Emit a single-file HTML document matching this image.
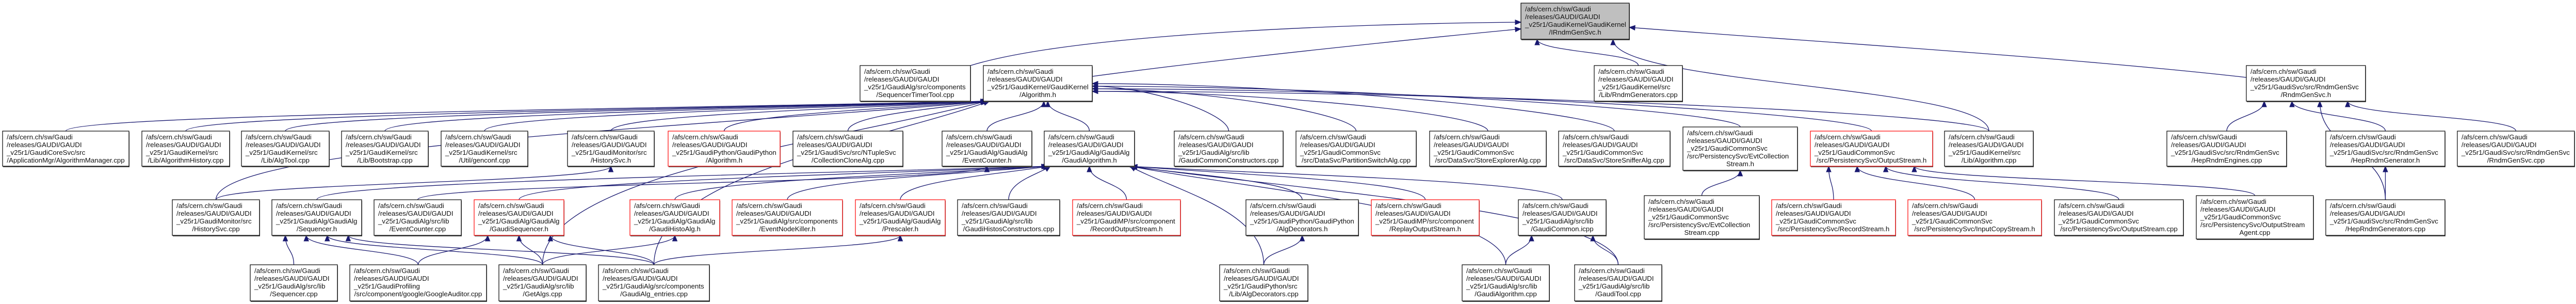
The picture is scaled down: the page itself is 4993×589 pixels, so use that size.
<!DOCTYPE html>
<html><head><meta charset="utf-8">
<style>
html,body{margin:0;padding:0;background:#fff;}
svg{display:block;}
text{font-family:"Liberation Sans",Arial,sans-serif;font-size:13.3px;fill:#111;}
</style></head>
<body>
<svg id="g" width="4993" height="589" viewBox="0 0 4993 589" xmlns="http://www.w3.org/2000/svg">
<g id="edges" fill="none" stroke="#191970" stroke-width="1.3"></g>
<g id="heads" fill="#191970" stroke="#191970" stroke-width="1"></g>
<g id="nodes"></g>
</svg>
<script>
var N={
T:[2948,3158,6,70,'g',['/afs/cern.ch/sw/Gaudi','/releases/GAUDI/GAUDI','_v25r1/GaudiKernel/GaudiKernel','/IRndmGenSvc.h']],
B1:[1667,1881,127,69,'k',['/afs/cern.ch/sw/Gaudi','/releases/GAUDI/GAUDI','_v25r1/GaudiAlg/src/components','/SequencerTimerTool.cpp']],
B2:[1906,2117,127,69,'k',['/afs/cern.ch/sw/Gaudi','/releases/GAUDI/GAUDI','_v25r1/GaudiKernel/GaudiKernel','/Algorithm.h']],
B3:[3090,3261,127,69,'k',['/afs/cern.ch/sw/Gaudi','/releases/GAUDI/GAUDI','_v25r1/GaudiKernel/src','/Lib/RndmGenerators.cpp']],
B4:[4354,4585,127,69,'k',['/afs/cern.ch/sw/Gaudi','/releases/GAUDI/GAUDI','_v25r1/GaudiSvc/src/RndmGenSvc','/RndmGenSvc.h']],
A1:[5,250,254,68,'k',['/afs/cern.ch/sw/Gaudi','/releases/GAUDI/GAUDI','_v25r1/GaudiCoreSvc/src','/ApplicationMgr/AlgorithmManager.cpp']],
A2:[275,445,254,68,'k',['/afs/cern.ch/sw/Gaudi','/releases/GAUDI/GAUDI','_v25r1/GaudiKernel/src','/Lib/AlgorithmHistory.cpp']],
A3:[468,638,254,68,'k',['/afs/cern.ch/sw/Gaudi','/releases/GAUDI/GAUDI','_v25r1/GaudiKernel/src','/Lib/AlgTool.cpp']],
A4:[662,830,254,68,'k',['/afs/cern.ch/sw/Gaudi','/releases/GAUDI/GAUDI','_v25r1/GaudiKernel/src','/Lib/Bootstrap.cpp']],
A5:[855,1023,254,68,'k',['/afs/cern.ch/sw/Gaudi','/releases/GAUDI/GAUDI','_v25r1/GaudiKernel/src','/Util/genconf.cpp']],
A6:[1100,1268,254,68,'k',['/afs/cern.ch/sw/Gaudi','/releases/GAUDI/GAUDI','_v25r1/GaudiMonitor/src','/HistorySvc.h']],
A7:[1295,1512,254,68,'r',['/afs/cern.ch/sw/Gaudi','/releases/GAUDI/GAUDI','_v25r1/GaudiPython/GaudiPython','/Algorithm.h']],
A8:[1537,1750,254,68,'k',['/afs/cern.ch/sw/Gaudi','/releases/GAUDI/GAUDI','_v25r1/GaudiSvc/src/NTupleSvc','/CollectionCloneAlg.cpp']],
A9:[1826,2000,254,68,'k',['/afs/cern.ch/sw/Gaudi','/releases/GAUDI/GAUDI','_v25r1/GaudiAlg/GaudiAlg','/EventCounter.h']],
A10:[2024,2199,254,68,'k',['/afs/cern.ch/sw/Gaudi','/releases/GAUDI/GAUDI','_v25r1/GaudiAlg/GaudiAlg','/GaudiAlgorithm.h']],
A11:[2276,2487,254,68,'k',['/afs/cern.ch/sw/Gaudi','/releases/GAUDI/GAUDI','_v25r1/GaudiAlg/src/lib','/GaudiCommonConstructors.cpp']],
A12:[2512,2745,254,68,'k',['/afs/cern.ch/sw/Gaudi','/releases/GAUDI/GAUDI','_v25r1/GaudiCommonSvc','/src/DataSvc/PartitionSwitchAlg.cpp']],
A13:[2771,2997,254,68,'k',['/afs/cern.ch/sw/Gaudi','/releases/GAUDI/GAUDI','_v25r1/GaudiCommonSvc','/src/DataSvc/StoreExplorerAlg.cpp']],
A14:[3021,3237,254,68,'k',['/afs/cern.ch/sw/Gaudi','/releases/GAUDI/GAUDI','_v25r1/GaudiCommonSvc','/src/DataSvc/StoreSnifferAlg.cpp']],
A15:[3262,3484,246,84,'k',['/afs/cern.ch/sw/Gaudi','/releases/GAUDI/GAUDI','_v25r1/GaudiCommonSvc','/src/PersistencySvc/EvtCollection','Stream.h']],
A16:[3509,3746,254,68,'r',['/afs/cern.ch/sw/Gaudi','/releases/GAUDI/GAUDI','_v25r1/GaudiCommonSvc','/src/PersistencySvc/OutputStream.h']],
A17:[3769,3941,254,68,'k',['/afs/cern.ch/sw/Gaudi','/releases/GAUDI/GAUDI','_v25r1/GaudiKernel/src','/Lib/Algorithm.cpp']],
A18:[4200,4432,254,68,'k',['/afs/cern.ch/sw/Gaudi','/releases/GAUDI/GAUDI','_v25r1/GaudiSvc/src/RndmGenSvc','/HepRndmEngines.cpp']],
A19:[4508,4739,254,68,'k',['/afs/cern.ch/sw/Gaudi','/releases/GAUDI/GAUDI','_v25r1/GaudiSvc/src/RndmGenSvc','/HepRndmGenerator.h']],
A20:[4763,4990,254,68,'k',['/afs/cern.ch/sw/Gaudi','/releases/GAUDI/GAUDI','_v25r1/GaudiSvc/src/RndmGenSvc','/RndmGenSvc.cpp']],
C1:[334,503,387,69,'k',['/afs/cern.ch/sw/Gaudi','/releases/GAUDI/GAUDI','_v25r1/GaudiMonitor/src','/HistorySvc.cpp']],
C2:[527,701,387,69,'k',['/afs/cern.ch/sw/Gaudi','/releases/GAUDI/GAUDI','_v25r1/GaudiAlg/GaudiAlg','/Sequencer.h']],
C3:[725,894,387,69,'k',['/afs/cern.ch/sw/Gaudi','/releases/GAUDI/GAUDI','_v25r1/GaudiAlg/src/lib','/EventCounter.cpp']],
C4:[919,1093,387,69,'r',['/afs/cern.ch/sw/Gaudi','/releases/GAUDI/GAUDI','_v25r1/GaudiAlg/GaudiAlg','/GaudiSequencer.h']],
C5:[1221,1395,387,69,'r',['/afs/cern.ch/sw/Gaudi','/releases/GAUDI/GAUDI','_v25r1/GaudiAlg/GaudiAlg','/GaudiHistoAlg.h']],
C6:[1419,1633,387,69,'r',['/afs/cern.ch/sw/Gaudi','/releases/GAUDI/GAUDI','_v25r1/GaudiAlg/src/components','/EventNodeKiller.h']],
C7:[1658,1832,387,69,'r',['/afs/cern.ch/sw/Gaudi','/releases/GAUDI/GAUDI','_v25r1/GaudiAlg/GaudiAlg','/Prescaler.h']],
C8:[1856,2054,387,69,'k',['/afs/cern.ch/sw/Gaudi','/releases/GAUDI/GAUDI','_v25r1/GaudiAlg/src/lib','/GaudiHistosConstructors.cpp']],
C9:[2079,2288,387,69,'r',['/afs/cern.ch/sw/Gaudi','/releases/GAUDI/GAUDI','_v25r1/GaudiMP/src/component','/RecordOutputStream.h']],
C10:[2415,2633,387,69,'k',['/afs/cern.ch/sw/Gaudi','/releases/GAUDI/GAUDI','_v25r1/GaudiPython/GaudiPython','/AlgDecorators.h']],
C11:[2658,2867,387,69,'r',['/afs/cern.ch/sw/Gaudi','/releases/GAUDI/GAUDI','_v25r1/GaudiMP/src/component','/ReplayOutputStream.h']],
C12:[2943,3113,387,69,'k',['/afs/cern.ch/sw/Gaudi','/releases/GAUDI/GAUDI','_v25r1/GaudiAlg/src/lib','/GaudiCommon.icpp']],
C13:[3187,3410,379,84,'k',['/afs/cern.ch/sw/Gaudi','/releases/GAUDI/GAUDI','_v25r1/GaudiCommonSvc','/src/PersistencySvc/EvtCollection','Stream.cpp']],
C14:[3434,3674,387,69,'r',['/afs/cern.ch/sw/Gaudi','/releases/GAUDI/GAUDI','_v25r1/GaudiCommonSvc','/src/PersistencySvc/RecordStream.h']],
C15:[3698,3957,387,69,'r',['/afs/cern.ch/sw/Gaudi','/releases/GAUDI/GAUDI','_v25r1/GaudiCommonSvc','/src/PersistencySvc/InputCopyStream.h']],
C16:[3982,4232,387,69,'k',['/afs/cern.ch/sw/Gaudi','/releases/GAUDI/GAUDI','_v25r1/GaudiCommonSvc','/src/PersistencySvc/OutputStream.cpp']],
C17:[4257,4484,379,84,'k',['/afs/cern.ch/sw/Gaudi','/releases/GAUDI/GAUDI','_v25r1/GaudiCommonSvc','/src/PersistencySvc/OutputStream','Agent.cpp']],
C18:[4508,4739,387,69,'k',['/afs/cern.ch/sw/Gaudi','/releases/GAUDI/GAUDI','_v25r1/GaudiSvc/src/RndmGenSvc','/HepRndmGenerators.cpp']],
D1:[485,654,513,70,'k',['/afs/cern.ch/sw/Gaudi','/releases/GAUDI/GAUDI','_v25r1/GaudiAlg/src/lib','/Sequencer.cpp']],
D2:[678,943,513,70,'k',['/afs/cern.ch/sw/Gaudi','/releases/GAUDI/GAUDI','_v25r1/GaudiProfiling','/src/component/google/GoogleAuditor.cpp']],
D3:[967,1136,513,70,'k',['/afs/cern.ch/sw/Gaudi','/releases/GAUDI/GAUDI','_v25r1/GaudiAlg/src/lib','/GetAlgs.cpp']],
D4:[1160,1375,513,70,'k',['/afs/cern.ch/sw/Gaudi','/releases/GAUDI/GAUDI','_v25r1/GaudiAlg/src/components','/GaudiAlg_entries.cpp']],
D5:[2364,2535,513,70,'k',['/afs/cern.ch/sw/Gaudi','/releases/GAUDI/GAUDI','_v25r1/GaudiPython/src','/Lib/AlgDecorators.cpp']],
D6:[2834,3003,513,70,'k',['/afs/cern.ch/sw/Gaudi','/releases/GAUDI/GAUDI','_v25r1/GaudiAlg/src/lib','/GaudiAlgorithm.cpp']],
D7:[3052,3221,513,70,'k',['/afs/cern.ch/sw/Gaudi','/releases/GAUDI/GAUDI','_v25r1/GaudiAlg/src/lib','/GaudiTool.cpp']]
};
var E={
T:['B3','A17'],
B2:['A1','A2','A3','A4','A5','A6','A7','A8','A9','A10','A11','A12','A13','A14','A15','A16','A17','C1','D3','D4'],
B4:['A18','A19','A20','C18'],
A19:['C18'],A6:['C1'],A9:['C3'],
A10:['C2','C4','C5','C6','C7','C8','C9','C10','C11','C12','D5','D6','D7'],
A15:['C13'],A16:['C14','C15','C16','C17'],
C2:['D1','D2','D3','D4'],C4:['D2','D3','D4'],C5:['D3'],C7:['D4'],C10:['D5'],C12:['D6','D7']
};
var NS='http://www.w3.org/2000/svg';
function el(t,a,p){var e=document.createElementNS(NS,t);for(var k in a)e.setAttribute(k,a[k]);p.appendChild(e);return e;}
var ge=document.getElementById('edges'),gh=document.getElementById('heads'),gn=document.getElementById('nodes');
function head(px,py,dx,dy){var l=Math.hypot(dx,dy)||1;dx/=l;dy/=l;var L=11,W=4.5;
var bx=px-dx*L,by=py-dy*L;
el('polygon',{points:px+','+py+' '+(bx-dy*W)+','+(by+dx*W)+' '+(bx+dy*W)+','+(by-dx*W)},gh);}
function line(x1,y1,x2,y2,c1x,c1y,c2x,c2y){
el('path',{d:'M'+x1+','+y1+' C'+c1x+','+c1y+' '+c2x+','+c2y+' '+(x2)+','+(y2)},ge);
head(x2,y2,x2-c2x,y2-c2y);}
var hubs={B2:1,A10:1};
for(var p in E){var P=N[p];var kids=E[p].slice().sort(function(a,b){return (N[a][0]+N[a][1])-(N[b][0]+N[b][1]);});
var n=kids.length;
kids.forEach(function(k,i){var C=N[k];var cx=(C[0]+C[1])/2,ct=C[2];
var pw=P[1]-P[0];var pb=P[2]+P[3];var dy=ct-pb;
if(hubs[p]&&cx<P[0]-50){var px=P[0]+6+ (i%3)*3;line(cx,ct,px,pb,cx,ct-dy*0.55,px-(P[0]-cx)*0.35,pb+dy*0.25);return;}
if(p=='B2'&&cx>P[1]+50){var py=P[2]+35+(i%4)*5;line(cx,ct,P[1],py,cx,ct-dy*0.6,P[1]+(cx-P[1])*0.4,py);return;}
if(hubs[p]&&cx>P[1]+50){var px=P[1]-6-(i%3)*3;line(cx,ct,px,pb,cx,ct-dy*0.55,px+(cx-P[1])*0.35,pb+dy*0.25);return;}
var px=P[0]+pw*(0.15+0.7*(n==1?0.5:i/(n-1)));
line(cx,ct,px,pb,cx,ct-dy*0.5,px,pb+dy*0.5);});}
line(1881,127,2948,43,2100,60,2700,45);
line(2117,148,2948,56,2400,110,2800,70);
line(4354,150,3158,53,4000,110,3500,80);
for(var id in N){var d=N[id];var x=d[0],w=d[1]-d[0],y=d[2],h=d[3];
var fill=d[4]=='g'?'#bfbfbf':'#fff',st=d[4]=='r'?'#ff0000':'#000';
el('rect',{x:x+1,y:y+2,width:w,height:h,fill:'#555'},gn);
el('rect',{x:x,y:y,width:w,height:h,fill:fill,stroke:st,'stroke-width':1.2},gn);
var L=d[5];L.forEach(function(s,i){var last=i==L.length-1;
var t=el('text',{x:last?x+w/2:x+8,y:y+16+i*15,'text-anchor':last?'middle':'start'},gn);t.textContent=s;});}
</script>
</body></html>
